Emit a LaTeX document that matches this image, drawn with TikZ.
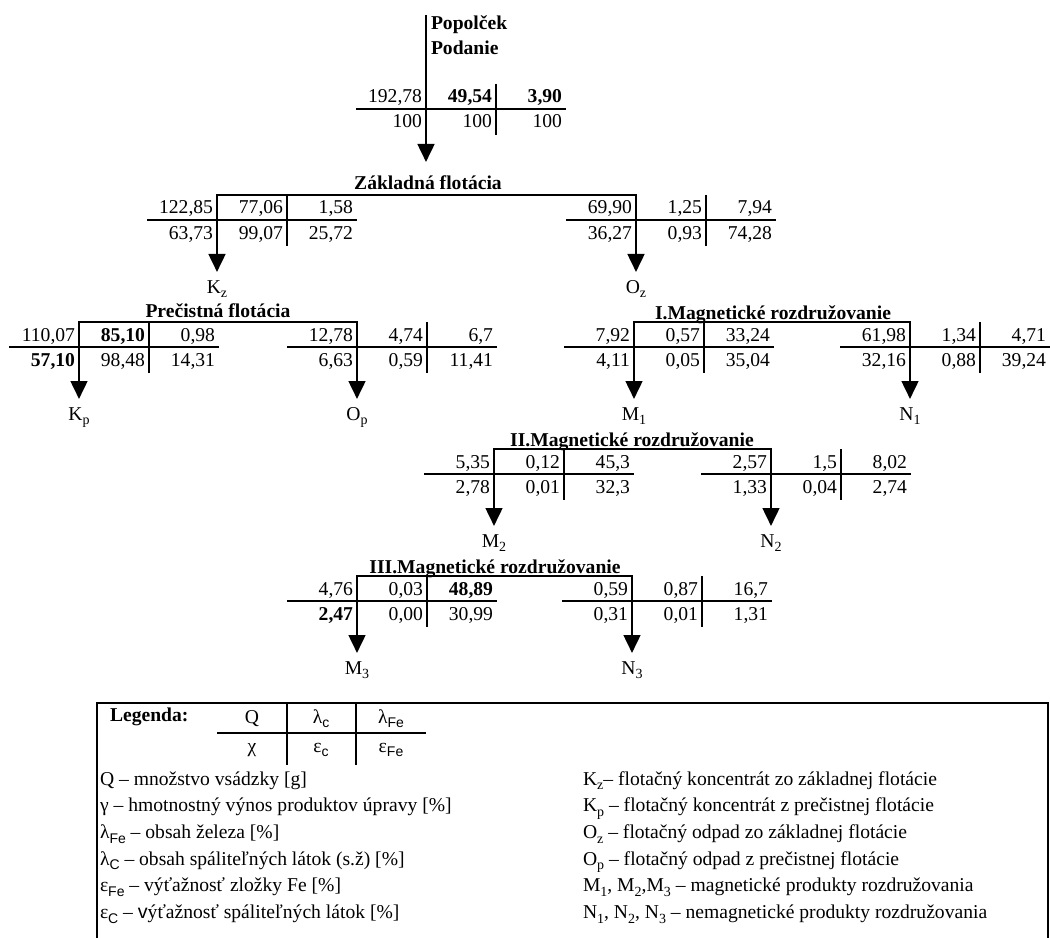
\documentclass[tikz,border=0pt]{standalone}
\usepackage{fontspec}
\setmainfont{Liberation Serif}
\setsansfont{Liberation Sans}
\usetikzlibrary{arrows.meta}
\newcommand\lo[1]{\raisebox{-0.25em}{\fontsize{10.5}{10}\selectfont #1}}
\newcommand\los[1]{\raisebox{-0.25em}{\fontsize{10.5}{10}\selectfont\sffamily #1}}
% #1 prefix, #2 main x, #3 hline y, #4..#9 entries
\newcommand\numtab[9]{%
  \begin{scope}[shift={(#2,#3)}]
    \coordinate (#1p) at (-70,0); \coordinate (#1q) at (140,0);
    \coordinate (#1u) at (70,-25); \coordinate (#1v) at (70,26);
    \draw[rule] (#1p) -- (#1q);
    \draw[rule] (#1u) -- (#1v);
    \node[num] (#1a) at (-4,-6) {#4};
    \node[num] (#1b) at (66,-6) {#5};
    \node[num] (#1c) at (136,-6) {#6};
    \node[num] (#1d) at (-4,19) {#7};
    \node[num] (#1e) at (66,19) {#8};
    \node[num] (#1f) at (136,19) {#9};
  \end{scope}}
\begin{document}
\begin{tikzpicture}[x=0.75pt,y=-0.75pt,
  every node/.style={inner sep=0pt,outer sep=0pt,font=\fontsize{14.7}{17.6}\selectfont},
  rule/.style={line width=2pt},
  tip/.style={line width=2pt,-{Triangle[width=12.5pt,length=13.5pt]}},
  tips/.style={line width=2pt,{Triangle[width=12.5pt,length=13.5pt]}-{Triangle[width=12.5pt,length=13.5pt]}},
  num/.style={anchor=base east},
  ttl/.style={anchor=base,font=\fontsize{14.7}{17.6}\selectfont\bfseries},
  lab/.style={anchor=base},
  txt/.style={anchor=base west},
  box/.style={line width=1.6pt}]
\useasboundingbox (0,0) rectangle (1050,938);

% ---- feed
\coordinate (src) at (426,15); \coordinate (srcT) at (426,162);
\draw[tip] (src) -- (srcT);
\node[txt,font=\fontsize{14.7}{17.6}\selectfont\bfseries] (pop) at (431,30) {Popolček};
\node[txt,font=\fontsize{14.7}{17.6}\selectfont\bfseries] (pod) at (431,55) {Podanie};
\numtab{t}{426}{109}{192,78}{\textbf{49,54}}{\textbf{3,90}}{100}{100}{100}

% ---- Zakladna flotacia (H=220)
\node[ttl] (zf) at (428,190) {Základná flotácia};
\coordinate (b1l) at (217,195); \coordinate (b1r) at (636,195);
\coordinate (kzT) at (217,272); \coordinate (ozT) at (636,272);
\draw[tips] (kzT) -- (b1l) -- (b1r) -- (ozT);
\numtab{z1}{217}{220}{122,85}{77,06}{1,58}{63,73}{99,07}{25,72}
\numtab{z2}{636}{220}{69,90}{1,25}{7,94}{36,27}{0,93}{74,28}
\node[lab] (Kz) at (217,293) {K\lo{z}};
\node[lab] (Oz) at (636,293) {O\lo{z}};

% ---- Precistna flotacia (H=347)
\node[ttl] (pf) at (218,317) {Prečistná flotácia};
\coordinate (b2l) at (79,322); \coordinate (b2r) at (357,322);
\coordinate (kpT) at (79,399); \coordinate (opT) at (357,399);
\draw[tips] (kpT) -- (b2l) -- (b2r) -- (opT);
\numtab{p1}{79}{347}{110,07}{\textbf{85,10}}{0,98}{\textbf{57,10}}{98,48}{14,31}
\numtab{p2}{357}{347}{12,78}{4,74}{6,7}{6,63}{0,59}{11,41}
\node[lab] (Kp) at (79,420) {K\lo{p}};
\node[lab] (Op) at (357,420) {O\lo{p}};

% ---- I. magneticke (H=347)
\node[ttl] (m1) at (773,319) {I.Magnetické rozdružovanie};
\coordinate (b3l) at (634,322); \coordinate (b3r) at (910,322);
\coordinate (m1T) at (634,399); \coordinate (n1T) at (910,399);
\draw[tips] (m1T) -- (b3l) -- (b3r) -- (n1T);
\numtab{a1}{634}{347}{7,92}{0,57}{33,24}{4,11}{0,05}{35,04}
\numtab{a2}{910}{347}{61,98}{1,34}{4,71}{32,16}{0,88}{39,24}
\node[lab] (M1) at (634,420) {M\lo{1}};
\node[lab] (N1) at (910,420) {N\lo{1}};

% ---- II. magneticke (H=474)
\node[ttl] (m2) at (632,446) {II.Magnetické rozdružovanie};
\coordinate (b4l) at (494,449); \coordinate (b4r) at (771,449);
\coordinate (m2T) at (494,526); \coordinate (n2T) at (771,526);
\draw[tips] (m2T) -- (b4l) -- (b4r) -- (n2T);
\numtab{c1}{494}{474}{5,35}{0,12}{45,3}{2,78}{0,01}{32,3}
\numtab{c2}{771}{474}{2,57}{1,5}{8,02}{1,33}{0,04}{2,74}
\node[lab] (M2) at (494,547) {M\lo{2}};
\node[lab] (N2) at (771,547) {N\lo{2}};

% ---- III. magneticke (H=601)
\node[ttl] (m3) at (495,573) {III.Magnetické rozdružovanie};
\coordinate (b5l) at (357,576); \coordinate (b5r) at (632,576);
\coordinate (m3T) at (357,653); \coordinate (n3T) at (632,653);
\draw[tips] (m3T) -- (b5l) -- (b5r) -- (n3T);
\numtab{d1}{357}{601}{4,76}{0,03}{\textbf{48,89}}{\textbf{2,47}}{0,00}{30,99}
\numtab{d2}{632}{601}{0,59}{0,87}{16,7}{0,31}{0,01}{1,31}
\node[lab] (M3) at (357,674) {M\lo{3}};
\node[lab] (N3) at (632,674) {N\lo{3}};

% ---- legend
\coordinate (lg1) at (97,938); \coordinate (lg2) at (97,703);
\coordinate (lg3) at (1048,703); \coordinate (lg4) at (1048,938);
\draw[box] (lg1) -- (lg2) -- (lg3) -- (lg4);
\node[txt,font=\fontsize{14.7}{17.6}\selectfont\bfseries] (leg) at (110,721) {Legenda:};
\coordinate (lt1) at (217,733); \coordinate (lt2) at (426,733);
\coordinate (lt3) at (287,703); \coordinate (lt4) at (287,765);
\coordinate (lt5) at (356,703); \coordinate (lt6) at (356,765);
\draw[rule] (lt1) -- (lt2);
\draw[rule] (lt3) -- (lt4);
\draw[rule] (lt5) -- (lt6);
\node[lab] (lq) at (252,723) {Q};
\node[lab] (llc) at (321,723) {λ\los{c}};
\node[lab] (llf) at (391,723) {λ\los{Fe}};
\node[lab] (lx) at (252,752) {χ};
\node[lab] (lec) at (321,752) {ε\los{c}};
\node[lab] (lef) at (391,752) {ε\los{Fe}};

\node[txt] (L1) at (100,785) {Q – množstvo vsádzky [g]};
\node[txt] (L2) at (100,811.7) {γ – hmotnostný výnos produktov úpravy [\%]};
\node[txt] (L3) at (100,838.3) {λ\los{Fe} – obsah železa [\%]};
\node[txt] (L4) at (100,865) {λ\los{C} – obsah spáliteľných látok (s.ž) [\%]};
\node[txt] (L5) at (100,891.7) {ε\los{Fe} – výťažnosť zložky Fe [\%]};
\node[txt] (L6) at (100,918.3) {ε\los{C} – {\sffamily v}ýťažnosť spáliteľných látok [\%]};

\node[txt] (R1) at (583,785) {K\lo{z}– flotačný koncentrát zo základnej flotácie};
\node[txt] (R2) at (583,811.7) {K\lo{p} – flotačný koncentrát z prečistnej flotácie};
\node[txt] (R3) at (583,838.3) {O\lo{z} – flotačný odpad zo základnej flotácie};
\node[txt] (R4) at (583,865) {O\lo{p} – flotačný odpad z prečistnej flotácie};
\node[txt] (R5) at (583,891.7) {M\lo{1}, M\lo{2},M\lo{3} – magnetické produkty rozdružovania};
\node[txt] (R6) at (583,918.3) {N\lo{1}, N\lo{2}, N\lo{3} – nemagnetické produkty rozdružovania};
\end{tikzpicture}
\end{document}
